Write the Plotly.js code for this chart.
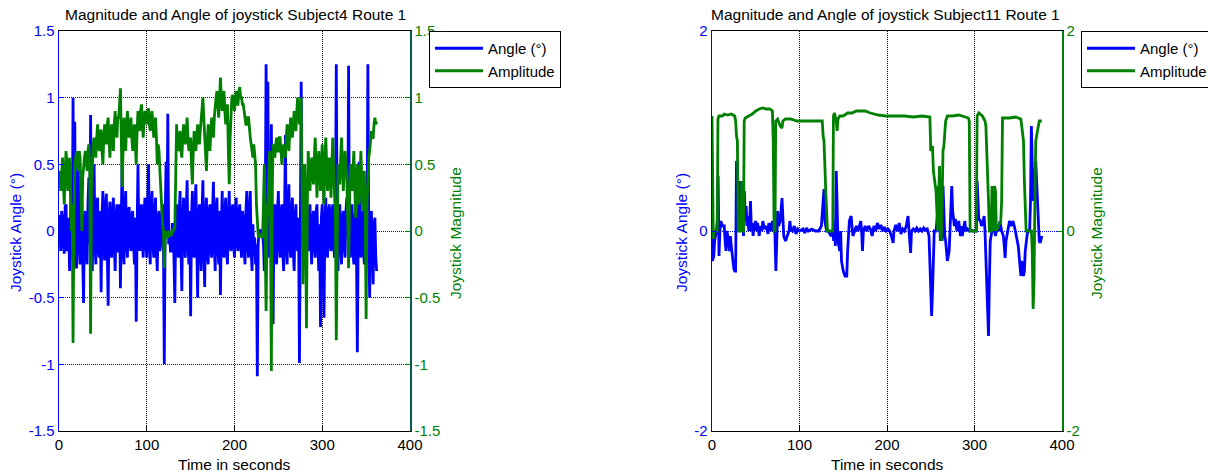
<!DOCTYPE html>
<html><head><meta charset="utf-8">
<script src="https://cdn.plot.ly/plotly-3.0.1.min.js"></script>
<style>html,body{margin:0;padding:0;background:#fff}#chart{width:1208px;height:476px}</style>
</head><body><div id="chart"></div>
<script>
// ---------- data ----------
const xTickVals = [0, 100, 200, 300, 400];
const leftYTicks = [-1.5, -1, -0.5, 0, 0.5, 1, 1.5];
const leftYText = ['-1.5', '-1', '-0.5', '0', '0.5', '1', '1.5'];
const rightYTicks = [-2, 0, 2];
const rightYText = ['-2', '0', '2'];

// Subject4: one sample per second, 0 .. 362 s
const s4SampleStep = 1;
const s4Angle = [
 0.12,-0.05,-0.15,0.15,0.1,-0.1,-0.17,0.18,0.2,-0.15,-0.12,0.1,-0.3,0.05,0.3,-0.2,1.0,0.1,0.82,-0.25,
 -0.28,0.2,0.6,-0.1,-0.25,0.15,0.2,-0.2,-0.54,0.1,0.15,-0.15,-0.25,0.2,0.4,-0.1,0.87,0.0,-0.3,0.2,
 0.5,-0.1,-0.25,0.2,0.25,-0.15,-0.2,0.15,-0.46,0.1,0.3,-0.1,-0.22,0.2,0.28,-0.15,-0.56,0.1,0.22,-0.15,
 -0.2,0.15,0.25,-0.1,-0.3,0.1,0.2,-0.15,-0.15,0.2,-0.43,0.1,0.55,-0.1,-0.25,0.15,0.3,-0.1,-0.2,0.15,
 0.18,-0.1,-0.15,0.12,0.15,-0.1,-0.25,0.1,-0.68,0.0,0.5,-0.05,-0.15,0.15,0.2,-0.1,-0.2,0.15,0.25,-0.1,
 -0.2,0.15,0.5,-0.1,-0.25,0.2,0.3,-0.1,-0.2,0.15,0.25,-0.15,-0.3,0.1,0.15,-0.15,-0.1,0.1,0.2,-0.1,
 -1.0,0.1,0.52,-0.05,0.88,-0.1,0.0,-0.15,-0.15,0.05,0.05,-0.2,-0.54,0.05,0.2,-0.1,-0.2,0.15,0.3,-0.15,
 -0.45,0.1,0.25,-0.1,-0.2,0.15,0.38,-0.1,-0.25,0.15,-0.64,0.1,0.3,-0.15,-0.2,0.2,0.35,-0.1,-0.5,0.1,
 0.2,-0.1,-0.3,0.15,0.38,-0.1,-0.42,0.1,0.25,-0.15,-0.25,0.15,0.2,-0.15,-0.2,0.15,0.37,-0.1,-0.3,0.15,
 0.25,-0.1,-0.25,0.15,-0.48,0.05,0.3,-0.1,-0.2,0.15,0.25,-0.15,-0.25,0.1,0.3,-0.1,-0.15,0.15,0.2,-0.1,
 -0.2,0.15,0.25,-0.1,-0.15,0.15,0.2,-0.1,-0.2,0.15,0.1,-0.15,-0.25,0.15,0.3,-0.1,-0.2,0.15,0.3,-0.15,
 -0.3,0.05,-0.15,-0.05,-0.25,-0.1,-1.09,-0.1,0.0,0.01,-0.02,0.0,0.0,-0.1,-0.3,0.1,1.25,0.2,1.12,0.0,
 -0.2,0.15,0.8,-0.1,-0.7,0.1,0.2,-0.15,-0.25,0.15,0.3,-0.1,-0.2,0.15,0.2,-0.15,-0.3,0.1,0.72,-0.1,
 -0.25,0.15,0.35,-0.1,-0.2,0.15,0.25,-0.15,-0.3,0.1,0.2,-0.1,-0.15,0.1,-0.99,0.0,1.12,-0.1,0.5,-0.15,
 -0.2,0.15,0.2,-0.1,-0.15,0.15,0.2,-0.1,-0.25,0.1,0.15,-0.1,-0.2,0.15,0.2,-0.1,-0.3,0.05,-0.72,0.1,
 0.2,-0.1,-0.65,0.05,0.25,-0.1,-0.2,0.15,0.2,-0.1,-0.15,0.15,0.2,-0.1,-0.2,0.1,1.25,0.0,-0.3,0.15,
 0.2,-0.1,-0.25,0.1,0.15,-0.1,-0.2,0.15,0.25,-0.05,1.24,0.0,-0.2,0.15,0.2,-0.15,-0.25,0.1,0.15,-0.15,
 -0.91,0.0,0.52,-0.1,-0.2,0.1,0.15,-0.15,-0.25,0.1,0.2,-0.1,1.25,0.0,-0.5,0.1,0.15,-0.2,-0.4,0.05,
 0.1,-0.2,-0.3
];
const s4Amplitude = [
 0.45,0.4,0.3,0.5,0.55,0.35,0.2,0.45,0.6,0.5,0.3,0.45,0.55,0.3,0.0,0.2,-0.84,0.1,0.5,0.55,
 0.6,0.5,0.45,0.6,0.55,0.3,0.0,0.4,0.5,0.55,0.6,0.5,0.45,0.6,0.65,0.5,-0.77,0.3,0.6,0.65,
 0.7,0.6,0.55,0.7,0.8,0.65,0.6,0.75,0.75,0.6,0.5,0.7,0.8,0.7,0.65,0.8,0.85,0.7,0.55,0.7,
 0.8,0.7,0.6,0.8,0.9,0.75,0.7,0.85,0.85,0.95,1.07,0.7,0.33,0.6,0.85,0.7,0.6,0.8,0.9,0.75,
 0.7,0.8,0.85,0.7,0.6,0.75,0.8,0.65,0.5,0.75,0.9,0.8,0.75,0.9,0.95,0.8,0.7,0.85,0.9,0.85,
 0.8,0.9,0.92,0.8,0.75,0.85,0.9,0.8,0.7,0.8,0.85,0.7,0.5,0.65,0.6,0.45,0.3,0.15,0.05,0.0,
 -0.28,-0.05,0.0,-0.03,-0.05,-0.02,0.0,-0.04,-0.03,0.0,0.0,0.02,0.02,0.4,0.8,0.65,0.6,0.7,0.75,0.6,
 0.55,0.7,0.8,0.7,0.65,0.75,0.85,0.7,0.6,0.65,0.7,0.5,0.35,0.6,0.75,0.65,0.6,0.7,0.8,0.7,
 0.65,0.75,0.85,0.95,1.0,0.85,0.7,0.55,0.45,0.65,0.8,0.7,0.6,0.75,0.85,0.8,0.7,0.85,0.95,1.0,
 1.05,0.95,0.85,1.0,1.15,1.0,0.9,1.0,1.05,0.9,0.8,0.9,0.95,0.6,0.35,0.7,0.95,1.0,1.02,0.95,
 0.9,1.0,1.05,0.95,0.95,1.05,1.08,1.0,1.0,0.95,0.95,0.9,0.85,0.8,0.8,0.85,0.85,0.75,0.7,0.65,
 0.6,0.55,0.65,0.55,0.5,0.2,0.0,-0.03,-0.05,-0.03,-0.02,-0.04,-0.05,0.2,0.5,-0.1,-0.6,0.0,0.2,0.5,
 0.6,0.1,-1.05,0.3,0.65,0.6,0.55,0.65,0.7,0.6,0.6,0.7,0.7,0.6,0.5,0.6,0.65,0.6,0.55,0.7,
 0.8,0.7,0.6,0.75,0.85,0.75,0.7,0.8,0.9,0.8,0.75,0.9,1.0,0.9,0.8,0.9,1.0,0.3,-0.4,0.2,
 0.5,0.1,-0.73,0.2,0.6,0.45,0.3,0.45,0.55,0.45,0.35,0.55,0.7,0.45,0.25,0.45,0.6,0.45,0.3,0.5,
 0.65,0.4,0.2,0.5,0.7,0.5,0.3,0.45,0.55,0.4,0.25,0.5,0.7,0.45,0.2,0.1,-0.82,0.2,0.5,0.45,
 0.35,0.55,0.7,0.5,0.3,0.45,0.6,0.5,0.4,0.1,-0.28,0.2,0.5,0.4,0.3,0.45,0.6,0.35,0.1,0.3,
 0.5,0.35,0.2,0.4,0.6,0.4,0.15,0.3,0.45,0.1,-0.66,0.2,0.5,0.55,0.6,0.7,0.75,0.7,0.7,0.8,
 0.85,0.8,0.82
];

// Subject11: [time (s), value]
const s11Angle = [[0,0],[0.5,-0.3],[2,-0.25],[3,-0.1],[5,0],[6,0.1],[7,0.55],[8,-0.25],[9,0],[10,0.1],[12,0.05],[14,0.05],[15,-0.1],[16,-0.2],[17,0],[18,-0.05],[20,-0.2],[21,-0.05],[22,-0.15],[24,-0.35],[25,-0.38],[26,-0.4],[27,-0.4],[28,0.7],[29,0.3],[30,0],[31,0.1],[32,0.5],[33,0.2],[34,0.1],[35,0.35],[36,-0.05],[37,0.4],[38,0.1],[39,0.25],[40,0.05],[41,0.15],[42,0],[43,0.1],[44,0.3],[45,0],[46,0.08],[47,-0.05],[48,0.05],[50,0.1],[51,0],[52,0.08],[54,-0.05],[55,0.05],[57,0],[58,0.1],[60,0.02],[62,0.05],[64,-0.03],[65,0.08],[67,0],[69,0.1],[70,0],[71,0.1],[72,-0.05],[73,-0.4],[74,0],[75,0.2],[76,0.05],[78,0.1],[80,0.33],[81,0.1],[82,-0.05],[84,-0.1],[86,-0.05],[88,0],[89,0.1],[90,0.02],[92,0],[94,0.05],[96,-0.03],[98,0.02],[100,0],[104,0.02],[106,-0.02],[108,0.03],[110,0],[114,0.02],[118,0],[122,0],[125,0.05],[126,0.2],[127,0.35],[128,0.42],[129,0.1],[131,0],[133,0],[136,-0.05],[138,0],[139,-0.1],[140,0.1],[141,-0.15],[142,0.6],[143,0],[144,-0.1],[146,-0.2],[147,0],[148,-0.3],[150,-0.4],[152,-0.45],[154,-0.45],[155,-0.2],[156,0],[157,0.1],[159,0.15],[160,0],[161,-0.05],[163,0],[165,0.05],[167,0],[169,0.08],[170,0.1],[171,0],[172,-0.2],[173,0],[175,0.05],[177,0],[179,0.05],[181,0.02],[183,-0.05],[185,0.05],[187,0],[189,0.08],[191,0.02],[193,0.06],[195,0],[197,0.04],[199,0],[201,0.02],[203,0],[205,-0.05],[207,-0.12],[208,0],[210,0.06],[212,0],[214,0.08],[216,-0.03],[218,0.02],[220,0],[222,0.05],[224,0.15],[225,0],[226,-0.05],[227,-0.22],[228,0],[230,0.02],[232,0],[234,0.03],[236,0],[238,0.02],[240,0],[242,0.03],[244,0.01],[246,0.02],[248,-0.05],[249,-0.3],[250,-0.6],[251,-0.85],[252,-0.6],[253,-0.2],[254,0],[256,0],[258,0.2],[259,0.45],[260,0.1],[261,-0.1],[262,0.1],[263,-0.1],[264,0.45],[265,0.1],[266,-0.05],[267,-0.1],[268,-0.2],[269,-0.3],[270,-0.25],[271,-0.2],[272,0],[273,0.2],[274,0.45],[275,0.2],[276,0.1],[277,0.05],[278,0.12],[280,0],[282,0.1],[284,-0.05],[285,0.05],[286,-0.05],[288,0.05],[289,0.1],[290,0],[292,0.02],[294,0],[296,0.01],[298,0],[300,0],[302,0],[303,0.5],[304,0.2],[305,0.1],[306,0.12],[308,0.05],[310,0.1],[311,0.15],[312,0],[313,-0.3],[314,-0.5],[315,-0.9],[316,-1.05],[317,-0.5],[318,-0.1],[320,0],[322,0.05],[324,-0.05],[326,0.05],[328,0],[329,0.1],[331,0],[333,-0.05],[334,-0.15],[335,-0.27],[336,-0.1],[338,0],[340,0.1],[342,0.05],[344,0.1],[346,0.03],[348,-0.05],[350,-0.15],[352,-0.35],[353,-0.45],[354,-0.3],[356,-0.45],[357,-0.4],[358,-0.2],[360,-0.05],[361,0],[363,0],[364,0.3],[365,1.05],[366,0.5],[367,0.3],[368,0.4],[369,0.6],[370,0.7],[371,0.5],[372,0.3],[373,0],[374,-0.1],[375,-0.12],[376,-0.08],[377,-0.05]];
const s11Amplitude = [[0,1.15],[0.8,0],[1.5,-0.08],[2,0],[6,0],[6.8,1.12],[8,1.15],[12,1.15],[14,1.17],[18,1.16],[22,1.17],[26,1.15],[27,1.1],[28,0.95],[29,0.9],[30,0],[33,0],[34,0.5],[35,0],[36,0],[36.8,1.1],[38,1.13],[42,1.15],[46,1.17],[50,1.2],[54,1.22],[58,1.23],[62,1.22],[66,1.22],[69,1.2],[70,0.9],[71,0],[72,0],[72.8,1.1],[75,1.12],[78,1.05],[80,1.03],[81,1.1],[84,1.12],[90,1.12],[97,1.1],[105,1.1],[115,1.1],[126,1.1],[127,0.95],[128,0.9],[130,0.4],[132,0],[138,0],[138.8,1.15],[140,1.18],[142,1.1],[143,1.0],[144,1.12],[146,1.15],[150,1.15],[155,1.18],[160,1.18],[165,1.2],[170,1.2],[175,1.2],[181,1.18],[190,1.16],[199,1.15],[210,1.15],[220,1.15],[230,1.14],[240,1.15],[249,1.14],[250,0.8],[252,0.85],[253,0.6],[256,0.4],[258,0],[259,0.3],[260,0.65],[261,0],[262,-0.1],[263,0.3],[264,0.8],[265,0.85],[267,1.1],[269,1.15],[275,1.15],[282,1.16],[288,1.14],[293,1.13],[294,1.1],[295,0],[302,0],[303,1.15],[305,1.18],[309,1.15],[312,1.1],[313,1.05],[314,0.8],[315,0.6],[316,0.3],[317,0],[319,0],[320,0.45],[321,0.1],[322,0],[323,0.45],[324,0.4],[325,0],[330,0.1],[331,0.3],[332,1.13],[340,1.13],[347,1.14],[353,1.12],[355,1.0],[356,0.9],[357,0.5],[359,0],[365,0],[366,-0.2],[367,-0.78],[368,-0.5],[369,0.3],[370,0.9],[372,1.0],[374,1.1],[377,1.1]];

// ---------- styling ----------
const FONT = 'Liberation Sans, Arial, Helvetica, sans-serif';
const BLUE = '#0000ff', GREEN = '#008000';
const W = 1208, H = 476;
const TXT = 15.5, TICK = 15, LEG = 15;
const LW = 2.8;
const s4Time = s4Angle.map((_, i) => i * s4SampleStep);

const traces = [
  {x: s4Time, y: s4Angle, xaxis: 'x', yaxis: 'y', type: 'scatter', mode: 'lines', name: 'Angle (°)',
   line: {color: BLUE, width: LW}, legend: 'legend', legendgroup: 'a'},
  {x: s4Time, y: s4Amplitude, xaxis: 'x', yaxis: 'y2', type: 'scatter', mode: 'lines', name: 'Amplitude',
   line: {color: GREEN, width: LW}, legend: 'legend', legendgroup: 'b'},
  {x: s11Angle.map(p => p[0]), y: s11Angle.map(p => p[1]), xaxis: 'x2', yaxis: 'y3', type: 'scatter', mode: 'lines', name: 'Angle (°)',
   line: {color: BLUE, width: LW}, legend: 'legend2', legendgroup: 'c'},
  {x: s11Amplitude.map(p => p[0]), y: s11Amplitude.map(p => p[1]), xaxis: 'x2', yaxis: 'y4', type: 'scatter', mode: 'lines', name: 'Amplitude',
   line: {color: GREEN, width: LW}, legend: 'legend2', legendgroup: 'd'}
];

const yDom = [1 - 431 / H, 1 - 31 / H];
function xAx(dom, anchor) {
  return {domain: dom, anchor: anchor, range: [0, 400], tickvals: xTickVals, ticktext: xTickVals.map(String),
    ticks: 'inside', ticklen: 5, tickcolor: 'black', showline: true, linecolor: 'black', linewidth: 1, mirror: true,
    showgrid: true, gridcolor: 'black', griddash: '1px,1px', gridwidth: 1, zeroline: false,
    tickfont: {family: FONT, size: TICK, color: 'black'}};
}
function yLeft(anchor, rng, tv, tt) {
  return {domain: yDom, anchor: anchor, range: rng, tickvals: tv, ticktext: tt, ticks: 'inside', ticklen: 5,
    tickcolor: BLUE, showline: true, linecolor: BLUE, linewidth: 1.5, showgrid: true, gridcolor: BLUE,
    griddash: '1px,1px', gridwidth: 1, zeroline: false, tickfont: {family: FONT, size: TICK, color: BLUE}};
}
function yRight(anchor, over, rng, tv, tt, lc) {
  return {domain: yDom, anchor: anchor, overlaying: over, side: 'right', range: rng, tickvals: tv, ticktext: tt,
    ticks: 'inside', ticklen: 5, tickcolor: GREEN, showline: true, linecolor: lc, linewidth: 1.5, showgrid: false,
    zeroline: false, tickfont: {family: FONT, size: TICK, color: GREEN}};
}
function legendAt(xpx) {
  return {x: xpx / W, y: 1 - 31 / H, xanchor: 'left', yanchor: 'top', bgcolor: 'white', bordercolor: 'black',
    borderwidth: 1, font: {family: FONT, size: LEG, color: 'black'}, itemwidth: 48, tracegroupgap: 0,
    orientation: 'v'};
}
function label(text, xpx, ypx, color, angle) {
  return {text: text, xref: 'paper', yref: 'paper', x: xpx / W, y: 1 - ypx / H, xanchor: 'center', yanchor: 'middle',
    showarrow: false, textangle: angle || 0, font: {family: FONT, size: TXT, color: color}};
}

const layout = {
  width: W, height: H, margin: {l: 0, r: 0, t: 0, b: 0, autoexpand: false},
  paper_bgcolor: 'white', plot_bgcolor: 'white', font: {family: FONT, size: TXT, color: 'black'},
  showlegend: true,
  xaxis: xAx([59 / W, 410 / W], 'y'),
  yaxis: yLeft('x', [-1.5, 1.5], leftYTicks, leftYText),
  yaxis2: yRight('x', 'y', [-1.5, 1.5], leftYTicks, leftYText, '#0b5a50'),
  xaxis2: xAx([712 / W, 1062 / W], 'y3'),
  yaxis3: yLeft('x2', [-2, 2], rightYTicks, rightYText),
  yaxis4: yRight('x2', 'y3', [-2, 2], rightYTicks, rightYText, GREEN),
  legend: legendAt(429),
  legend2: legendAt(1081),
  annotations: [
    label('Magnitude and Angle of joystick Subject4 Route 1', 235, 14, 'black'),
    label('Magnitude and Angle of joystick Subject11 Route 1', 885, 14, 'black'),
    label('Time in seconds', 234.5, 464, 'black'),
    label('Time in seconds', 887, 464, 'black'),
    label('Joystick Angle (°)', 15, 233, BLUE, -90),
    label('Joystick Magnitude', 455, 233, GREEN, -90),
    label('Joystick Angle (°)', 681, 233, BLUE, -90),
    label('Joystick Magnitude', 1096, 233, GREEN, -90)
  ]
};

Plotly.newPlot('chart', traces, layout, {displayModeBar: false, staticPlot: true});
</script></body></html>
